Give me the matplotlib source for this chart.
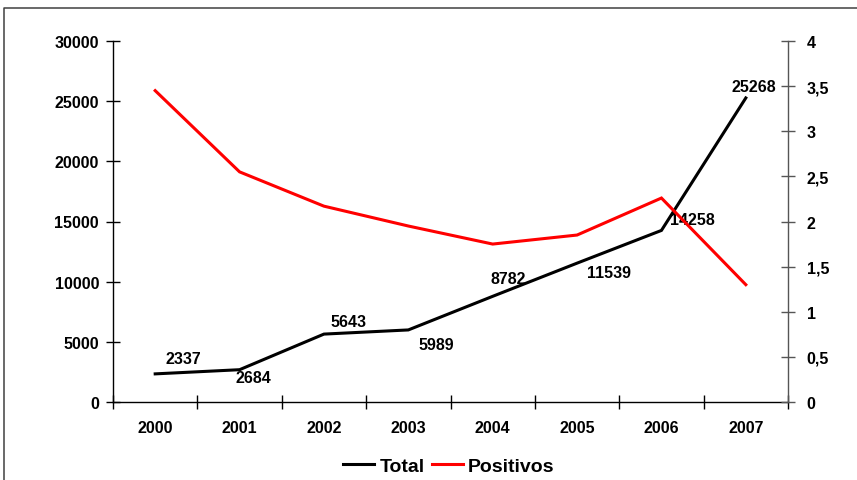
import matplotlib
matplotlib.use('Agg')
import matplotlib.pyplot as plt
from matplotlib.ticker import FuncFormatter, MultipleLocator
from matplotlib.lines import Line2D
import numpy as np

years = ['2000', '2001', '2002', '2003', '2004', '2005', '2006', '2007']
total = [2337, 2684, 5643, 5989, 8782, 11539, 14258, 25268]
positivos = [3.45, 2.55, 2.17, 1.95, 1.75, 1.85, 2.26, 1.30]

# label offsets in pixels (dx right, dy down)
label_off = [(28, -15), (14, 8), (25, -13), (28, 15), (16, -18), (32, 9), (31, -11), (8, -11)]

plt.rcParams['font.family'] = ['Liberation Sans', 'DejaVu Sans']
plt.rcParams['font.weight'] = 'bold'

W, H = 857, 481
fig = plt.figure(figsize=(W / 100, H / 100), dpi=100)
ax = fig.add_axes([113 / W, 1 - 403 / H, 675 / W, 361 / H])
ax2 = ax.twinx()

x = np.arange(len(years))
l1, = ax.plot(x, total, color='black', lw=2.2, solid_joinstyle='miter', zorder=3)
l2, = ax2.plot(x, positivos, color='#ff0000', lw=2.2, solid_joinstyle='miter', zorder=3)

fs = 11.5
for xi, v, (dx, dy) in zip(x, total, label_off):
    ax.annotate(str(v), (xi, v), xytext=(dx * 0.72, -dy * 0.72), textcoords='offset points',
                ha='center', va='center', fontsize=fs, fontweight='bold')

ax.set_xlim(-0.5, len(years) - 0.5)
ax.set_ylim(0, 30000)
ax2.set_ylim(0, 4)
ax.yaxis.set_major_locator(MultipleLocator(5000))
ax2.yaxis.set_major_locator(MultipleLocator(0.5))
ax2.yaxis.set_major_formatter(FuncFormatter(lambda v, p: ('%g' % v).replace('.', ',')))

ax.set_xticks(x)
ax.set_xticklabels(years)
ax.set_xticks(np.arange(-0.5, len(years)), minor=True)
ax.tick_params(axis='x', which='major', length=0, pad=13, labelsize=fs)
ax.tick_params(axis='x', which='minor', direction='inout', length=10, width=1)
ax.tick_params(axis='y', direction='inout', length=10, width=1, pad=5, labelsize=fs)
ax2.tick_params(axis='y', direction='inout', length=10, width=1, pad=8.5, labelsize=fs,
                color='#555555')

for a in (ax, ax2):
    a.spines['top'].set_visible(False)
ax.spines['right'].set_visible(False)
ax2.spines['left'].set_visible(False)
ax2.spines['bottom'].set_visible(False)
ax2.spines['right'].set_color('#555555')
for s in ('left', 'bottom'):
    ax.spines[s].set_linewidth(1)
ax2.spines['right'].set_linewidth(1)

fig.legend([l1, l2], ['Total', 'Positivos'], loc='center', bbox_to_anchor=(449 / W, 1 - 467 / H),
           ncol=2, frameon=False, prop={'size': 14, 'weight': 'bold'},
           handlelength=1.6, handletextpad=0.25, columnspacing=0.4)

# outer chart frame (clipped at right and bottom)
fig.add_artist(Line2D([4 / W, 4 / W, 1.01], [-0.01, 1 - 9 / H, 1 - 9 / H],
                      transform=fig.transFigure, color='#404040', lw=1.1))

fig.savefig('out.png', dpi=100)
